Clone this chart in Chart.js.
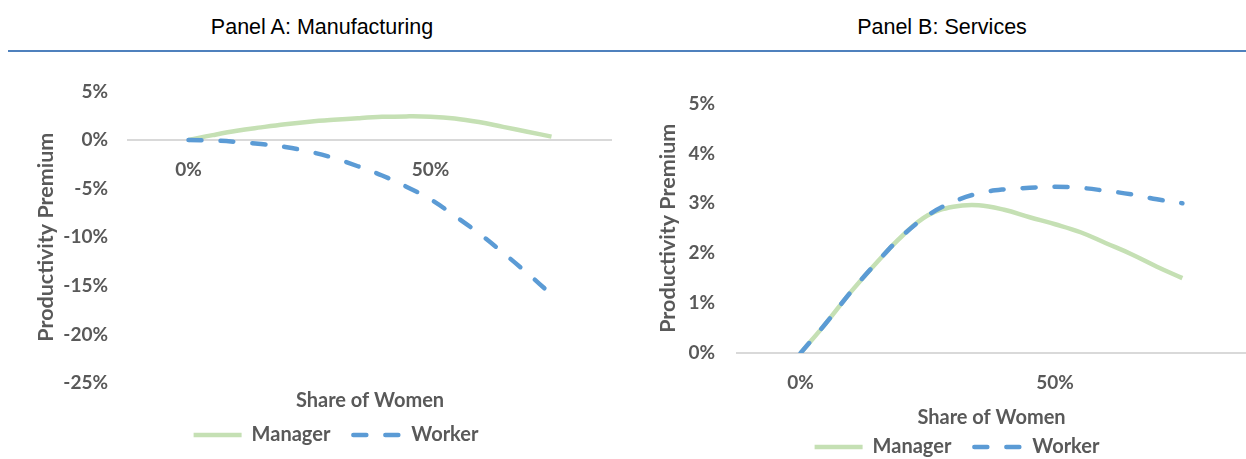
<!DOCTYPE html>
<html>
<head>
<meta charset="utf-8">
<title>Productivity Premium by Share of Women</title>
<script src="https://cdn.jsdelivr.net/npm/chart.js"></script>
<style>
  html, body { margin: 0; padding: 0; background: #fff; overflow: hidden; }
  body { width: 1246px; height: 459px; position: relative; font-family: 'Liberation Sans', Arial, sans-serif; }
  .panel-title { position: absolute; top: 15px; line-height: 24px; font-size: 21.5px; color: #000; transform: translateX(-50%); white-space: nowrap; }
  .rule { position: absolute; left: 8px; right: 0; top: 50px; height: 2px; background: #4f81bd; }
  canvas { position: absolute; }
</style>
</head>
<body>
  <div class="panel-title" style="left: 322px;">Panel A: Manufacturing</div>
  <div class="panel-title" style="left: 942px;">Panel B: Services</div>
  <div class="rule"></div>

  <canvas id="mfgChart" width="612" height="395" style="left: 0; top: 60px;"></canvas>
  <canvas id="svcChart" width="626" height="407" style="left: 620px; top: 60px;"></canvas>

<script>
// share of women (%) at which each curve is sampled
const shareOfWomen = [0, 5, 10, 15, 20, 25, 30, 35, 40, 45, 50, 55, 60, 65, 70, 75];

// productivity premium (%), manufacturing
const mfgManager = [0, 0.5, 0.95, 1.3, 1.62, 1.88, 2.08, 2.25, 2.38, 2.43, 2.4, 2.22, 1.85, 1.35, 0.85, 0.35];
const mfgWorker = [0, -0.05, -0.2, -0.42, -0.72, -1.2, -1.85, -2.7, -3.65, -4.8, -6.1, -7.8, -9.6, -11.6, -13.7, -15.9];

// productivity premium (%), services
const svcManager = [0, 0.6, 1.24, 1.82, 2.35, 2.76, 2.93, 2.96, 2.87, 2.72, 2.58, 2.42, 2.2, 1.98, 1.73, 1.5];
const svcWorker = [0, 0.6, 1.24, 1.82, 2.35, 2.76, 3.03, 3.2, 3.28, 3.31, 3.33, 3.31, 3.25, 3.18, 3.08, 3.0];

// tick labels
const xTickValues = [0, 50];
const mfgYTicks = [5, 0, -5, -10, -15, -20, -25];
const svcYTicks = [5, 4, 3, 2, 1, 0];

const seriesNames = ['Manager', 'Worker'];
const managerColor = '#c5e0b4';
const workerColor = '#5b9bd5';
const textColor = '#595959';

Chart.defaults.font.family = "Lato, 'Open Sans', sans-serif";
Chart.defaults.font.weight = 'bold';
Chart.defaults.color = textColor;

function toPoints(values) {
  return shareOfWomen.map((x, i) => ({ x: x, y: values[i] }));
}

// legend samples are drawn as short lines that keep each dataset's dash and caps
function lineLegendLabels(chart) {
  return Chart.defaults.plugins.legend.labels.generateLabels(chart).map(item => {
    const ds = chart.data.datasets[item.datasetIndex];
    item.lineDash = ds.borderDash || [];
    item.lineCap = ds.borderCapStyle || 'butt';
    item.lineWidth = ds.borderWidth;
    item.strokeStyle = ds.borderColor;
    return item;
  });
}

function premiumChart(canvasId, managerValues, workerValues, yTicks, box) {
  return new Chart(document.getElementById(canvasId), {
    type: 'line',
    data: {
      datasets: [
        {
          label: seriesNames[0],
          data: toPoints(managerValues),
          borderColor: managerColor,
          backgroundColor: managerColor,
          borderWidth: 4.5,
          tension: 0.4,
          pointRadius: 0,
          order: 1
        },
        {
          label: seriesNames[1],
          data: toPoints(workerValues),
          borderColor: workerColor,
          backgroundColor: workerColor,
          borderWidth: 4.5,
          borderDash: [13, 19],
          borderCapStyle: 'round',
          tension: 0.4,
          pointRadius: 0,
          order: 0
        }
      ]
    },
    options: {
      responsive: false,
      animation: false,
      layout: { padding: { left: box.padLeft, top: box.padTop, right: 0, bottom: 0 } },
      plugins: {
        legend: {
          position: 'bottom',
          labels: {
            usePointStyle: true,
            pointStyle: 'line',
            pointStyleWidth: 48,
            padding: 23,
            color: textColor,
            font: { size: 20, weight: 'bold' },
            generateLabels: lineLegendLabels,
            sort: (a, b) => a.datasetIndex - b.datasetIndex
          }
        },
        tooltip: { enabled: false }
      },
      scales: {
        x: {
          type: 'linear',
          position: { y: 0 },
          min: -12.5,
          max: 87.5,
          grid: { display: false, drawTicks: false },
          border: { display: true, color: '#d9d9d9', width: 2 },
          ticks: { padding: 18.5, font: { size: 19 }, callback: v => v + '%' },
          afterBuildTicks: s => { s.ticks = xTickValues.map(v => ({ value: v })); }
        },
        // bottom band that only carries the x axis title
        xTitle: {
          type: 'linear',
          position: 'bottom',
          grid: { display: false, drawTicks: false },
          border: { display: false },
          ticks: { display: false },
          title: {
            display: true,
            text: 'Share of Women',
            font: { size: 20 },
            padding: { top: 0, bottom: box.xTitlePad }
          },
          afterFit: s => { s.height = box.xTitleBand; }
        },
        y: {
          position: 'left',
          min: Math.min(...yTicks),
          max: Math.max(...yTicks),
          grid: { display: false, drawTicks: false },
          border: { display: false },
          ticks: { padding: box.yTickPad, font: { size: 19 }, callback: v => v + '%' },
          afterBuildTicks: s => { s.ticks = yTicks.map(v => ({ value: v })); },
          title: {
            display: true,
            text: 'Productivity Premium',
            font: { size: 21.5 },
            padding: { top: box.yTitlePad, bottom: 0 }
          },
          afterFit: s => { s.width = box.yAxisWidth; }
        }
      }
    }
  });
}

premiumChart('mfgChart', mfgManager, mfgWorker, mfgYTicks, {
  padLeft: 60, padTop: 28, yAxisWidth: 68, yTickPad: 20, yTitlePad: -27,
  xTitleBand: 19, xTitlePad: -10.7
});

premiumChart('svcChart', svcManager, svcWorker, svcYTicks, {
  padLeft: 48, padTop: 43.5, yAxisWidth: 69, yTickPad: 22, yTitlePad: -13,
  xTitleBand: 61, xTitlePad: -15.3
});
</script>
</body>
</html>
